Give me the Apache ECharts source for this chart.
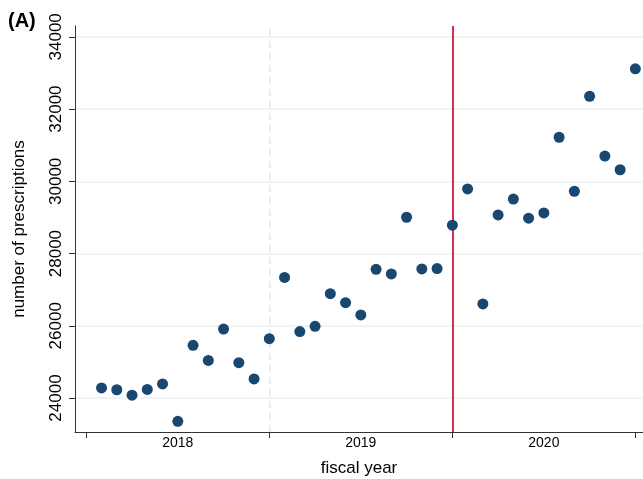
<!DOCTYPE html>
<html>
<head>
<meta charset="utf-8">
<script src="https://cdn.jsdelivr.net/npm/echarts@6/dist/echarts.min.js"></script>
<style>
  html, body { margin: 0; padding: 0; background: #fff; }
  #chart { width: 643px; height: 479px; }
</style>
</head>
<body>
<div id="chart"></div>
<script>
// Monthly prescription counts, fiscal years 2018-2020 (month 1..36)
const months = [1,2,3,4,5,6,7,8,9,10,11,12,13,14,15,16,17,18,19,20,21,22,23,24,25,26,27,28,29,30,31,32,33,34,35,36];
const prescriptions = [
  24280, 24230, 24080, 24240, 24390, 23355, 25460, 25040, 25910, 24980, 24530, 25645,
  27340, 25840, 25985, 26890, 26640, 26300, 27565, 27435, 29005, 27575, 27585, 28785,
  29790, 26605, 29070, 29510, 28980, 29125, 31220, 29725, 32355, 30700, 30320, 33115
];
// Fiscal-year boundaries (months) and year labels at mid-year
const yearBoundaries = [0, 12, 24, 36];
const yearMids = [6, 18, 30];
const yearLabels = ['2018', '2019', '2020'];
const yTicks = [24000, 26000, 28000, 30000, 32000, 34000];
const referenceMonth = 12;   // dashed reference line
const policyMonth = 24;      // solid red line

const FONT = '"Liberation Sans", Helvetica, Arial, sans-serif';
const chart = echarts.init(document.getElementById('chart'), null, { renderer: 'canvas' });

chart.setOption({
  backgroundColor: '#ffffff',
  animation: false,
  textStyle: { fontFamily: FONT },
  grid: { left: 75, right: 0, top: 26, bottom: 47, containLabel: false, outerBoundsMode: 'none' },
  graphic: [{
    type: 'text', left: 8, top: 11,
    style: { text: '(A)', font: 'bold 20px ' + FONT, fill: '#000' }
  }],
  xAxis: {
    type: 'value',
    min: -0.74, max: 36.5,
    name: 'fiscal year',
    nameLocation: 'middle',
    nameGap: 28,
    nameTextStyle: { fontSize: 17, color: '#000', fontFamily: FONT },
    axisLine: { show: true, onZero: false, lineStyle: { color: '#333', width: 1 } },
    axisTick: { show: true, customValues: yearBoundaries, length: 6, lineStyle: { color: '#333', width: 1 } },
    axisLabel: {
      customValues: yearMids,
      formatter: v => yearLabels[yearMids.indexOf(v)] || '',
      fontSize: 14, color: '#000', margin: 4, fontFamily: FONT
    },
    splitLine: { show: false }
  },
  yAxis: {
    type: 'value',
    min: 23060, max: 34300,
    name: 'number of prescriptions',
    nameLocation: 'middle',
    nameGap: 47,
    nameRotate: 90,
    nameTextStyle: { fontSize: 17, color: '#000', fontFamily: FONT },
    axisLine: { show: true, onZero: false, lineStyle: { color: '#333', width: 1 } },
    axisTick: { show: true, customValues: yTicks, length: 6, lineStyle: { color: '#333', width: 1 } },
    axisLabel: {
      customValues: yTicks,
      formatter: v => String(v),
      rotate: 90,
      fontSize: 17, color: '#000', margin: 10, fontFamily: FONT
    },
    splitLine: { show: true, lineStyle: { color: '#eaf2f3', width: 1.5 } }
  },
  series: [
    {
      type: 'line',
      data: [],
      z: 1,
      markLine: {
        z: 1,
        silent: true,
        symbol: ['none', 'none'],
        label: { show: false },
        animation: false,
        data: [
          { xAxis: referenceMonth, lineStyle: { color: '#e0e8eb', width: 1.5, type: [7, 5] } },
          { xAxis: policyMonth, lineStyle: { color: '#d62d50', width: 2, type: 'solid' } }
        ]
      }
    },
    {
      type: 'scatter',
      z: 6,
      symbol: 'circle',
      symbolSize: 11,
      itemStyle: { color: '#1a476f', opacity: 1 },
      data: months.map((m, i) => [m, prescriptions[i]])
    }
  ]
});
</script>
</body>
</html>
